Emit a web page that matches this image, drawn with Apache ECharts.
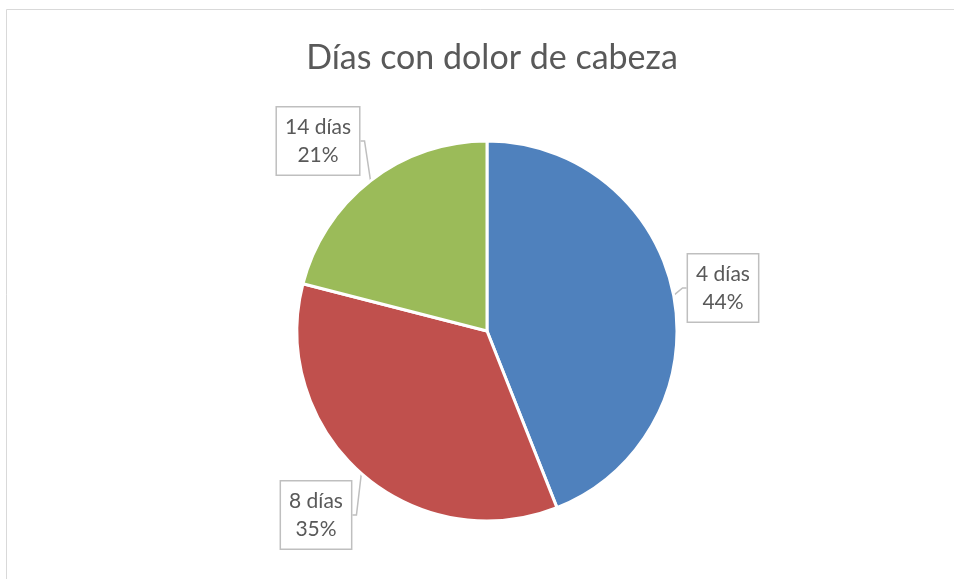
<!DOCTYPE html>
<html>
<head>
<meta charset="utf-8">
<script src="https://cdn.jsdelivr.net/npm/echarts@6/dist/echarts.min.js"></script>
<style>html,body{margin:0;padding:0;background:#fff}#c{width:954px;height:579px}</style>
</head>
<body>
<div id="c"></div>
<script>
var titleText = 'Días con dolor de cabeza';
var categories = ['4 días', '8 días', '14 días'];
var values = [44, 35, 21];
var colors = ['#4F81BD', '#C0504D', '#9BBB59'];

var labelSpots = [[723, 288], [316, 515], [318, 141]];

var chart = echarts.init(document.getElementById('c'));
chart.setOption({
  animation: false,
  backgroundColor: '#fff',
  graphic: [{
    type: 'rect', shape: {x: 6.5, y: 9.5, width: 1000, height: 700},
    style: {fill: 'none', stroke: '#d9d9d9', lineWidth: 1}, silent: true
  }],
  title: {
    text: titleText, left: 487, textAlign: 'center', top: 36,
    textStyle: {fontFamily: 'Lato', fontSize: 34, fontWeight: 'normal', color: '#595959'}
  },
  series: [{
    type: 'pie',
    center: [487, 331],
    radius: 190,
    startAngle: 90,
    clockwise: true,
    percentPrecision: 0,
    data: categories.map(function (c, i) {
      return {name: c, value: values[i], itemStyle: {color: colors[i]}};
    }),
    itemStyle: {borderColor: '#fff', borderWidth: 3},
    label: {
      show: true, position: 'outside',
      formatter: '{b}\n{d}%',
      fontFamily: 'Lato', fontSize: 21, color: '#595959',
      lineHeight: 28, align: 'center',
      backgroundColor: '#fff', borderColor: '#bfbfbf', borderWidth: 1.5,
      padding: [6, 8, 5, 8]
    },
    labelLine: {show: true, length: 6, length2: 4, lineStyle: {color: '#bfbfbf', width: 1.5}},
    labelLayout: function (p) {
      var s = labelSpots[p.dataIndex];
      return {x: s[0], y: s[1], align: 'center', verticalAlign: 'middle'};
    }
  }]
});
</script>
</body>
</html>
